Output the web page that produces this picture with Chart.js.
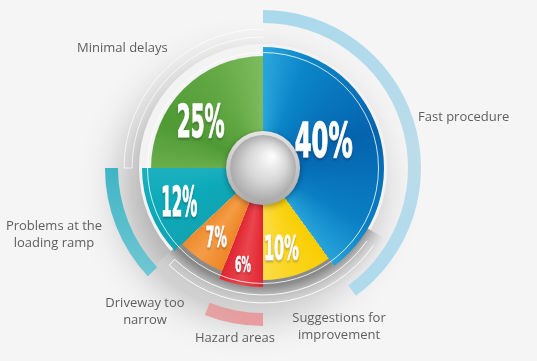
<!DOCTYPE html>
<html>
<head>
<meta charset="utf-8">
<script src="https://cdn.jsdelivr.net/npm/chart.js@4.4.1/dist/chart.umd.min.js"></script>
<style>
  html, body { margin: 0; padding: 0; background: #f5f5f5; }
  #pie { display: block; }
</style>
</head>
<body>
<canvas id="pie" width="537" height="361"></canvas>
<script>
// data, clockwise from 12 o'clock
const categories = ['Fast procedure', 'Suggestions for improvement', 'Hazard areas',
                    'Driveway too narrow', 'Problems at the loading ramp', 'Minimal delays'];
const shares = [40, 10, 6, 7, 12, 25];
const shareLabels = ['40%', '10%', '6%', '7%', '12%', '25%'];

// styling
const sliceRadius = [121, 112, 119, 111, 121, 112];
const labelRadius = [67, 82, 98, 83, 90, 78];
const labelTurn = [-7, 5, 1, 0, 0, -8];   // degrees
const labelSize = [48, 34, 21, 29, 40, 44];
const labelWidth = [58, 35, 16, 21, 36, 48];
const catLines = [['Fast procedure'], ['Suggestions for', 'improvement'], ['Hazard areas'],
                  ['Driveway too', 'narrow'], ['Problems at the', 'loading ramp'], ['Minimal delays']];
const catSpots = [[418, 117, 'left'], [339, 318, 'center'], [235, 338, 'center'],
                  [145, 303, 'center'], [54, 226, 'center'], [77, 48, 'left']];

const PI = Math.PI;
const rad = d => d * PI / 180 - PI / 2;

function center(chart) {
    const a = chart.chartArea;
    return { cx: (a.left + a.right) / 2, cy: (a.top + a.bottom) / 2 };
}

// one conic gradient shared by all slices
function sliceFill(context) {
    const chart = context.chart;
    if (!chart.chartArea) return '#888';
    const { cx, cy } = center(chart);
    const g = chart.ctx.createConicGradient(-PI / 2, cx, cy);
    const stops = [
        [0, '#2ba6dc'], [0.06, '#0b86c9'], [0.2, '#0563ae'], [0.33, '#0a7fc4'], [0.4, '#27a3da'],
        [0.4, '#f8cd00'], [0.46, '#fbd622'], [0.5, '#fcdc4a'],
        [0.5, '#e12631'], [0.53, '#ea4650'], [0.56, '#df2530'],
        [0.56, '#ee8528'], [0.6, '#f49d46'], [0.63, '#ef8a2e'],
        [0.63, '#11a4b3'], [0.69, '#0ca9b8'], [0.75, '#1bb0bf'],
        [0.75, '#6aae4c'], [0.82, '#4f9a35'], [0.92, '#62a843'], [1, '#7dbb5e']
    ];
    stops.forEach(s => g.addColorStop(s[0], s[1]));
    return g;
}

function ringFill(context) {
    const chart = context.chart;
    if (!chart.chartArea) return 'rgba(0,0,0,0)';
    const { cx, cy } = center(chart);
    const ctx = chart.ctx;
    const i = context.dataIndex;
    if (i === 0) {
        const g = ctx.createLinearGradient(cx, cy - 158, cx + 100, cy + 130);
        g.addColorStop(0, '#a9d9ec');
        g.addColorStop(0.6, '#bcdcea');
        g.addColorStop(1, '#addaec');
        return g;
    }
    if (i === 2) {
        const g = ctx.createLinearGradient(cx - 50, 0, cx, 0);
        g.addColorStop(0, 'rgba(232,146,148,0.8)');
        g.addColorStop(1, 'rgba(231,152,154,0.95)');
        return g;
    }
    if (i === 4) {
        const g = ctx.createLinearGradient(0, cy, 0, cy + 115);
        g.addColorStop(0, '#3fb4c5');
        g.addColorStop(1, '#74c8d3');
        return g;
    }
    return 'rgba(0,0,0,0)';
}

const decor = {
    id: 'decor',
    afterDatasetsUpdate(chart) {
        const meta = chart.getDatasetMeta(2);
        meta.data.forEach((arc, i) => { arc.outerRadius = sliceRadius[i]; });
    },
    beforeDatasetsDraw(chart) {
        const ctx = chart.ctx;
        const { cx, cy } = center(chart);
        ctx.save();
        // soft shadow under the whole disc
        ctx.shadowColor = 'rgba(0,0,0,0.30)';
        ctx.shadowBlur = 45;
        ctx.shadowOffsetX = -14;
        ctx.shadowOffsetY = 20;
        ctx.beginPath();
        ctx.arc(cx, cy, 124, 0, 2 * PI);
        ctx.fillStyle = '#f3f3f3';
        ctx.fill();
        ctx.restore();

        // bottom platter rings
        ctx.save();
        const pg = ctx.createRadialGradient(cx, cy, 118, cx, cy, 146);
        pg.addColorStop(0, '#8a8a8a');
        pg.addColorStop(0.35, '#c0c0c0');
        pg.addColorStop(1, 'rgba(236,236,236,0)');
        ctx.beginPath();
        ctx.arc(cx, cy, 146, rad(120), rad(228));
        ctx.arc(cx, cy, 100, rad(228), rad(120), true);
        ctx.closePath();
        ctx.fillStyle = pg;
        ctx.fill();
        ctx.strokeStyle = 'rgba(255,255,255,0.9)';
        ctx.lineWidth = 1;
        [127, 135].forEach(r => {
            ctx.beginPath();
            ctx.arc(cx, cy, r, rad(125), rad(224));
            ctx.stroke();
        });
        ctx.beginPath();
        ctx.moveTo(cx + 127 * Math.cos(rad(224)), cy + 127 * Math.sin(rad(224)));
        ctx.lineTo(cx + 135 * Math.cos(rad(224)), cy + 135 * Math.sin(rad(224)));
        ctx.stroke();

        // faint rings round the upper left
        ctx.strokeStyle = 'rgba(255,255,255,0.7)';
        [131, 139].forEach(r => {
            ctx.beginPath();
            ctx.arc(cx, cy, r, rad(270), rad(360));
            ctx.stroke();
        });
        ctx.beginPath();
        ctx.moveTo(cx - 131, cy);
        ctx.lineTo(cx - 139, cy);
        ctx.stroke();
        ctx.restore();
    },
    afterDatasetsDraw(chart) {
        const ctx = chart.ctx;
        const { cx, cy } = center(chart);
        ctx.save();
        // thin white ring across the slices
        ctx.strokeStyle = 'rgba(255,255,255,0.8)';
        ctx.lineWidth = 1;
        ctx.beginPath();
        ctx.arc(cx, cy, 115.5, 0, 2 * PI);
        ctx.stroke();

        // silver knob in the middle
        ctx.shadowColor = 'rgba(0,0,0,0.35)';
        ctx.shadowBlur = 6;
        ctx.shadowOffsetY = 2;
        const rim = ctx.createLinearGradient(cx, cy - 37, cx, cy + 37);
        rim.addColorStop(0, '#e4e4e4');
        rim.addColorStop(1, '#a9a9a9');
        ctx.beginPath();
        ctx.arc(cx, cy, 37, 0, 2 * PI);
        ctx.fillStyle = rim;
        ctx.fill();
        ctx.shadowColor = 'transparent';
        const ball = ctx.createRadialGradient(cx + 9, cy - 12, 2, cx, cy, 34);
        ball.addColorStop(0, '#fbfbfb');
        ball.addColorStop(0.55, '#d6d6d6');
        ball.addColorStop(1, '#a8a8a8');
        ctx.beginPath();
        ctx.arc(cx, cy, 33, 0, 2 * PI);
        ctx.fillStyle = ball;
        ctx.fill();

        // percentages, squeezed to a tall condensed look
        const meta = chart.getDatasetMeta(2);
        ctx.fillStyle = '#ffffff';
        ctx.strokeStyle = '#ffffff';
        ctx.textAlign = 'center';
        ctx.textBaseline = 'alphabetic';
        ctx.shadowColor = 'rgba(0,0,0,0.18)';
        ctx.shadowBlur = 2;
        meta.data.forEach((arc, i) => {
            const a = (arc.startAngle + arc.endAngle) / 2 + labelTurn[i] * PI / 180;
            const x = cx + labelRadius[i] * Math.cos(a);
            const y = cy + labelRadius[i] * Math.sin(a);
            ctx.save();
            ctx.font = 'bold ' + labelSize[i] + 'px "DejaVu Sans", sans-serif';
            const w = ctx.measureText(shareLabels[i]).width;
            ctx.translate(x, y + labelSize[i] * 0.365);
            ctx.scale(labelWidth[i] / w, 1);
            ctx.lineWidth = labelSize[i] / 30;
            ctx.lineJoin = 'round';
            ctx.strokeText(shareLabels[i], 0, 0);
            ctx.fillText(shareLabels[i], 0, 0);
            ctx.restore();
        });
        ctx.restore();

        // category names
        ctx.save();
        ctx.fillStyle = '#5e5e5e';
        ctx.font = '13px "Open Sans", sans-serif';
        ctx.textBaseline = 'middle';
        catLines.forEach((lines, i) => {
            const [x, y, align] = catSpots[i];
            ctx.textAlign = align;
            lines.forEach((t, k) => ctx.fillText(t, x, y + k * 17));
        });
        ctx.restore();
    }
};

new Chart(document.getElementById('pie'), {
    type: 'doughnut',
    data: {
        labels: categories,
        datasets: [
            { data: shares, weight: 13, backgroundColor: ringFill, borderWidth: 0 },
            { data: shares, weight: 24, backgroundColor: 'rgba(0,0,0,0)', borderWidth: 0 },
            { data: shares, weight: 121, backgroundColor: sliceFill, borderWidth: 0 }
        ]
    },
    options: {
        responsive: false,
        animation: false,
        cutout: 0,
        radius: 158,
        events: [],
        layout: { padding: { left: 105, right: 116, top: 10, bottom: 35 } },
        plugins: { legend: { display: false }, tooltip: { enabled: false } }
    },
    plugins: [decor]
});
</script>
</body>
</html>
